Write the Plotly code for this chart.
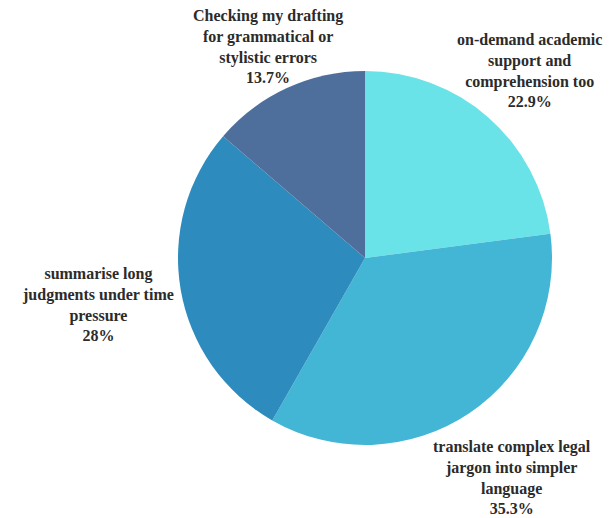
import math
import plotly.graph_objects as go

# Survey responses: how the AI tool is used
labels = [
    "on-demand academic<br>support and<br>comprehension too",
    "translate complex legal<br>jargon into simpler<br>language",
    "summarise long<br>judgments under time<br>pressure",
    "Checking my drafting<br>for grammatical or<br>stylistic errors",
]
shares = [22.9, 35.3, 28, 13.7]
colors = ["#6ae3e8", "#43b6d6", "#2e8bbd", "#4e6f9c"]
# radial gap (px) from the pie rim to each label block's centre
label_offset = [62, 77, 84, 46]

W, H = 616, 518
cx, cy, r = 365, 258, 187

fig = go.Figure(
    go.Pie(
        labels=labels,
        values=shares,
        sort=False,
        direction="clockwise",
        rotation=0,
        marker=dict(colors=colors, line=dict(width=0)),
        textposition="none",
        hoverinfo="label+value",
        showlegend=False,
        domain=dict(
            x=[(cx - r) / W, (cx + r) / W],
            y=[(H - cy - r) / H, (H - cy + r) / H],
        ),
    )
)

# outside labels placed along each slice's mid-angle
total = sum(shares)
cum = 0.0
for lab, val, off in zip(labels, shares, label_offset):
    mid = (cum + val / 2) / total * 2 * math.pi
    cum += val
    px = cx + (r + off) * math.sin(mid)
    py = cy - (r + off) * math.cos(mid)
    fig.add_annotation(
        x=px / W,
        y=1 - py / H,
        xref="paper",
        yref="paper",
        xanchor="center",
        yanchor="middle",
        showarrow=False,
        align="center",
        text=f"{lab}<br>{val:g}%",
        font=dict(family="Liberation Serif", size=16, color="#2b2b2b", weight="bold"),
    )

fig.update_layout(
    width=W,
    height=H,
    margin=dict(l=0, r=0, t=0, b=0),
    paper_bgcolor="white",
    plot_bgcolor="white",
)

fig.write_html("out.html")
